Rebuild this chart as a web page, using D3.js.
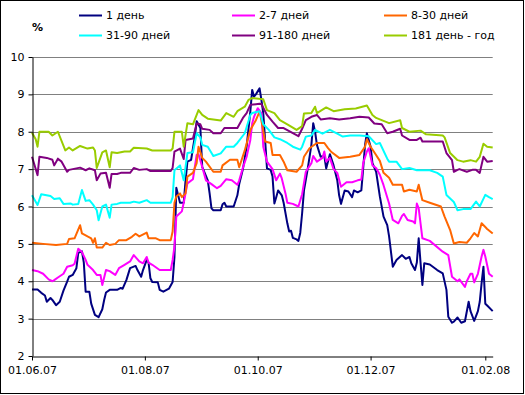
<!DOCTYPE html>
<html>
<head>
<meta charset="utf-8">
<script src="https://cdn.jsdelivr.net/npm/d3@7"></script>
<style>
body { margin: 0; background: #fff; }
text { font-family: "DejaVu Sans", Verdana, sans-serif; font-size: 11px; }
</style>
</head>
<body>
<script>
// Width and height
var w = 525;
var h = 395;

// series: [days since 01.06.2007, rate %]
var seriesNames = ["1 день", "2-7 дней", "8-30 дней", "31-90 дней", "91-180 дней", "181 день - год"];
var seriesColors = ["#000080", "#ff00ff", "#ff6600", "#00ffff", "#800080", "#99cc00"];

var day1 = [[0,3.78],[3,3.78],[5,3.69],[7,3.62],[8,3.45],[10,3.55],[11,3.5],[13,3.36],[15,3.45],[17,3.75],[19,3.99],[20,4.12],[22,4.17],[24,4.35],[25,4.76],[27,4.8],[28,4.5],[29,3.72],[31,3.72],[32,3.4],[34,3.1],[36,3.04],[38,3.25],[39,3.5],[40,3.7],[42,3.77],[46,3.77],[48,3.82],[49,3.8],[51,4.03],[53,4.35],[56,4.41],[57,4.3],[59,4.12],[60,4.3],[62,4.57],[63,4.5],[64,4.08],[65,3.98],[68,3.97],[69,3.77],[71,3.72],[74,3.8],[76,3.98],[77,4.65],[78,6.5],[79,6.3],[80,6.1],[82,6.1],[83,6.7],[84,7.2],[86,7.25],[88,7.87],[89,8.28],[91,8.1],[92,7.06],[95,6.7],[96,6.35],[97,5.95],[98,5.9],[102,5.9],[103,6.06],[104,6.1],[105,6.0],[109,6.0],[111,6.3],[112,6.6],[114,7.0],[116,7.6],[118,8.54],[119,9.12],[120,8.94],[121,9.0],[123,9.16],[124,8.85],[125,8.49],[126,7.78],[127,7.02],[129,6.98],[130,6.8],[131,6.08],[132,6.25],[133,6.43],[135,6.3],[136,6.1],[138,5.55],[139,5.33],[140,5.35],[141,5.16],[143,5.12],[144,5.08],[145,5.3],[146,5.82],[147,6.43],[149,7.0],[151,7.65],[152,8.23],[153,8.0],[154,7.65],[156,7.33],[158,7.35],[159,7.02],[161,7.4],[163,7.1],[165,6.7],[166,6.3],[167,6.07],[169,6.43],[171,6.4],[173,6.25],[174,6.43],[176,6.38],[178,6.43],[179,7.02],[180,7.65],[181,7.96],[183,7.6],[184,7.16],[186,6.93],[188,6.27],[190,5.73],[192,5.5],[193,5.2],[195,4.39],[197,4.57],[200,4.7],[202,4.6],[204,4.65],[205,4.48],[207,4.3],[208,4.5],[209,5.15],[210,4.5],[211,3.9],[212,4.48],[215,4.45],[219,4.3],[222,4.21],[224,3.77],[225,3.05],[227,2.89],[228,2.92],[230,3.03],[232,2.89],[234,2.93],[236,3.45],[237,3.2],[239,2.94],[241,3.2],[242,3.45],[243,3.95],[244,4.39],[245,3.4],[246,3.35],[249,3.2]];

var days2to7 = [[0,4.3],[3,4.27],[6,4.2],[9,4.05],[11,4.0],[12,4.03],[14,4.1],[17,4.2],[19,4.39],[22,4.43],[23,4.47],[25,4.87],[27,4.78],[29,4.57],[30,4.44],[33,4.3],[35,4.17],[37,4.17],[38,3.9],[40,4.3],[42,4.27],[45,4.17],[47,4.35],[50,4.44],[53,4.53],[55,4.7],[58,4.53],[60,4.48],[62,4.65],[63,4.5],[65,4.44],[69,4.3],[75,4.3],[76,4.57],[77,4.93],[78,5.73],[81,5.87],[82,6.1],[84,6.62],[87,6.73],[89,7.38],[90,7.4],[92,7.06],[94,6.7],[97,6.6],[100,6.49],[102,6.55],[105,6.73],[108,6.7],[111,6.58],[112,6.7],[114,7.04],[116,7.33],[118,7.78],[119,8.22],[120,8.4],[122,8.63],[124,8.5],[125,7.6],[127,7.2],[130,7.0],[132,6.7],[134,6.88],[135,6.75],[137,6.35],[138,6.1],[141,6.07],[144,6.0],[146,6.33],[148,6.93],[151,7.16],[152,7.35],[154,7.2],[157,7.3],[158,7.47],[159,7.2],[161,7.3],[163,7.0],[165,6.9],[167,6.53],[170,6.65],[173,6.65],[176,6.7],[178,6.72],[179,7.16],[181,7.47],[182,7.56],[184,7.1],[186,7.03],[188,6.85],[190,6.57],[193,6.08],[195,5.64],[198,5.55],[200,5.75],[201,5.8],[203,5.64],[206,5.6],[207,5.55],[208,6.08],[209,5.95],[211,5.15],[215,5.08],[222,4.79],[225,4.7],[227,4.12],[230,4.0],[231,4.05],[234,3.85],[235,4.0],[237,4.2],[238,4.2],[239,3.97],[241,4.2],[243,4.66],[244,4.84],[245,4.66],[247,4.2],[249,4.12]];

var days8to30 = [[0,5.03],[6,5.0],[13,4.97],[19,5.0],[20,5.13],[23,5.15],[26,5.5],[27,5.28],[30,5.2],[32,5.15],[33,5.03],[34,5.15],[35,4.9],[38,4.9],[40,5.03],[42,4.97],[45,5.0],[47,5.1],[51,5.1],[54,5.19],[56,5.27],[58,5.2],[62,5.3],[63,5.15],[67,5.15],[69,5.1],[75,5.1],[76,5.33],[77,6.1],[78,6.27],[80,6.35],[81,6.25],[83,6.35],[84,6.8],[87,6.9],[89,7.16],[90,7.6],[92,7.3],[94,7.2],[98,6.93],[102,6.93],[103,7.1],[107,7.25],[111,7.25],[112,7.05],[115,7.5],[118,8.05],[121,8.31],[123,8.54],[124,8.3],[126,7.74],[129,7.7],[130,7.38],[134,7.38],[136,7.2],[138,6.97],[143,6.93],[146,7.1],[147,7.33],[150,7.56],[154,7.7],[158,7.7],[160,7.56],[162,7.45],[166,7.3],[172,7.33],[177,7.38],[180,7.6],[181,7.8],[183,7.6],[185,7.45],[188,7.22],[190,6.9],[193,6.77],[195,6.58],[200,6.58],[201,6.4],[204,6.45],[208,6.4],[209,6.58],[211,6.17],[215,6.1],[221,6.0],[223,5.73],[226,5.37],[228,5.01],[231,5.05],[235,5.03],[237,5.15],[239,5.29],[241,5.2],[243,5.55],[245,5.45],[246,5.4],[249,5.28]];

var days31to90 = [[0,6.3],[3,6.04],[5,6.33],[10,6.28],[12,6.2],[15,6.22],[17,6.07],[21,6.08],[22,6.05],[25,6.07],[27,6.44],[29,6.15],[31,6.17],[33,6.05],[35,5.9],[36,5.63],[38,6.0],[40,6.05],[42,5.7],[43,6.05],[46,6.07],[48,6.1],[53,6.1],[55,6.13],[58,6.1],[62,6.17],[64,6.1],[75,6.1],[76,6.25],[77,6.97],[80,7.1],[82,6.7],[84,7.43],[87,7.45],[89,7.96],[91,7.85],[92,7.65],[95,7.6],[98,7.35],[102,7.42],[105,7.6],[109,7.6],[111,7.7],[115,7.96],[118,8.45],[119,8.5],[123,8.55],[125,8.2],[128,8.05],[131,7.85],[134,7.8],[138,7.7],[141,7.6],[145,7.52],[146,7.6],[148,7.87],[151,7.9],[153,8.05],[157,7.95],[161,8.05],[165,7.95],[168,7.87],[172,7.9],[177,7.9],[182,7.88],[186,7.67],[188,7.7],[192,7.28],[193,7.2],[197,7.2],[200,7.0],[204,7.03],[208,6.97],[215,6.97],[219,6.9],[222,6.8],[224,6.31],[228,6.12],[230,5.9],[233,5.93],[237,5.93],[240,6.13],[242,6.0],[245,6.31],[247,6.25],[249,6.2]];

var days91to180 = [[0,7.33],[3,6.84],[4,7.33],[8,7.3],[11,7.25],[12,7.1],[14,7.28],[16,7.2],[19,6.93],[20,6.98],[26,7.04],[29,6.97],[31,7.02],[34,6.97],[35,6.7],[37,6.88],[40,6.9],[42,6.5],[43,6.87],[46,6.87],[48,6.9],[53,6.9],[55,7.03],[58,6.98],[62,7.0],[64,6.95],[75,6.95],[76,7.03],[77,7.47],[80,7.55],[82,7.27],[83,7.78],[87,7.82],[89,8.22],[91,8.2],[92,8.08],[96,8.05],[98,7.96],[102,7.96],[104,8.1],[111,8.1],[114,8.37],[116,8.5],[118,8.72],[123,8.75],[124,8.74],[127,8.45],[130,8.27],[133,8.1],[136,8.1],[141,7.96],[144,7.88],[146,8.08],[148,8.31],[151,8.4],[154,8.45],[156,8.33],[161,8.36],[166,8.33],[172,8.36],[177,8.4],[182,8.38],[185,8.22],[189,8.2],[192,7.96],[195,8.0],[199,8.08],[200,7.9],[204,7.78],[208,7.78],[210,7.84],[211,7.74],[222,7.74],[224,7.43],[227,7.24],[228,6.93],[230,6.98],[231,7.0],[235,6.93],[238,6.98],[240,6.98],[242,6.9],[244,7.33],[246,7.2],[249,7.22]];

var days181to365 = [[0,7.97],[2,7.8],[3,7.6],[4,8.0],[9,8.0],[11,7.9],[14,8.0],[18,7.5],[20,7.58],[22,7.5],[26,7.62],[30,7.55],[33,7.58],[34,7.5],[35,7.03],[38,7.45],[40,7.5],[42,7.05],[43,7.45],[46,7.43],[50,7.47],[53,7.47],[55,7.57],[62,7.55],[65,7.5],[75,7.5],[76,7.55],[77,8.0],[81,8.0],[82,7.6],[84,8.23],[87,8.2],[90,8.58],[92,8.45],[95,8.35],[102,8.3],[105,8.5],[109,8.4],[111,8.55],[115,8.67],[117,8.85],[119,8.9],[125,8.87],[127,8.58],[131,8.5],[134,8.31],[138,8.2],[143,8.05],[146,8.15],[147,8.49],[151,8.5],[153,8.67],[154,8.5],[159,8.65],[163,8.55],[169,8.6],[175,8.62],[181,8.7],[184,8.45],[186,8.37],[193,8.23],[199,8.31],[200,8.1],[204,8.0],[210,8.03],[213,7.93],[222,7.9],[223,7.85],[226,7.43],[230,7.24],[233,7.2],[237,7.24],[240,7.2],[242,7.33],[244,7.68],[246,7.6],[249,7.58]];

var allSeries = [day1, days2to7, days8to30, days31to90, days91to180, days181to365];

var startDate = new Date(Date.UTC(2007, 5, 1));
var endDate = new Date(Date.UTC(2008, 1, 5));
var xTickDates = ["2007-06-01", "2007-08-01", "2007-10-01", "2007-12-01", "2008-02-01"];
var yTicks = [2, 3, 4, 5, 6, 7, 8, 9, 10];

var fmt = d3.utcFormat("%d.%m.%y");

var plotLeft = 32, plotRight = 492.7, plotTop = 57, plotBottom = 356;

// Create scale functions
var xScale = d3.scaleUtc()
    .domain([startDate, endDate])
    .range([plotLeft, plotRight]);

var yScale = d3.scaleLinear()
    .domain([2, 10])
    .range([plotBottom, plotTop]);

// Create SVG element
var svg = d3.select("body")
    .append("svg")
    .attr("width", w)
    .attr("height", h);

svg.append("rect")
    .attr("x", 0.5).attr("y", 0.5)
    .attr("width", w - 2).attr("height", h - 2)
    .attr("fill", "#fff")
    .attr("stroke", "#000");

// gridlines
svg.append("g")
    .selectAll("line")
    .data(yTicks.slice(1))
    .enter()
    .append("line")
    .attr("x1", plotLeft).attr("x2", plotRight)
    .attr("y1", function(d) { return Math.round(yScale(d)) + 0.5; })
    .attr("y2", function(d) { return Math.round(yScale(d)) + 0.5; })
    .attr("stroke", "#808080");

var line = d3.line()
    .x(function(d) { return xScale(d3.utcDay.offset(startDate, d[0])); })
    .y(function(d) { return yScale(d[1]); });

svg.append("g")
    .selectAll("path")
    .data(allSeries)
    .enter()
    .append("path")
    .attr("d", line)
    .attr("fill", "none")
    .attr("stroke-width", 2)
    .attr("stroke-linejoin", "round")
    .attr("stroke", function(d, i) { return seriesColors[i]; });

var xAxis = d3.axisBottom(xScale)
    .tickValues(xTickDates.map(function(s) { return new Date(s + "T00:00:00Z"); }))
    .tickFormat(fmt)
    .tickSizeInner(4)
    .tickSizeOuter(0)
    .tickPadding(6);

var yAxis = d3.axisLeft(yScale)
    .tickValues(yTicks)
    .tickFormat(d3.format("d"))
    .tickSizeInner(4)
    .tickSizeOuter(0)
    .tickPadding(4);

svg.append("g")
    .attr("transform", "translate(0," + (plotBottom + 0.5) + ")")
    .call(xAxis);

svg.append("g")
    .attr("transform", "translate(" + (plotLeft + 0.5) + ",0)")
    .call(yAxis);

svg.selectAll(".domain, .tick line").attr("stroke", "#000");
svg.selectAll(".tick text")
    .attr("font-family", "DejaVu Sans, Verdana, sans-serif")
    .attr("font-size", 11)
    .attr("fill", "#000");

svg.append("text")
    .attr("x", 32).attr("y", 31)
    .attr("font-weight", "bold")
    .attr("font-size", 10)
    .text("%");

// legend
var legX = [79, 232, 384];
var legend = svg.append("g")
    .selectAll("g")
    .data(seriesNames)
    .enter()
    .append("g")
    .attr("transform", function(d, i) {
        return "translate(" + legX[i % 3] + "," + (15 + Math.floor(i / 3) * 20) + ")";
    });

legend.append("line")
    .attr("x1", 0).attr("x2", 23)
    .attr("y1", 0.5).attr("y2", 0.5)
    .attr("stroke-width", 2)
    .attr("stroke", function(d, i) { return seriesColors[i]; });

legend.append("text")
    .attr("x", 27).attr("y", 4)
    .text(function(d) { return d; });
</script>
</body>
</html>
